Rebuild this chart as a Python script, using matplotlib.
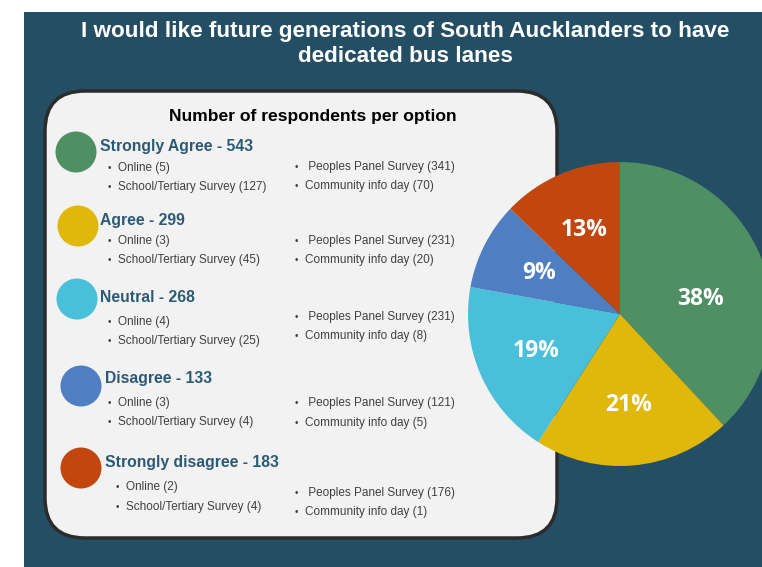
import matplotlib.pyplot as plt
from matplotlib.patches import FancyBboxPatch, Circle, Rectangle

# chart data
options = ['Strongly Agree', 'Agree', 'Neutral', 'Disagree', 'Strongly disagree']
totals = [543, 299, 268, 133, 183]
online = [5, 3, 4, 3, 2]
school = [127, 45, 25, 4, 4]
peoples_panel = [341, 231, 231, 121, 176]
community_day = [70, 20, 8, 5, 1]
colors = ['#4e8f64', '#e0b80b', '#49bfd9', '#4f7fc2', '#c2470f']

title = 'I would like future generations of South Aucklanders to have\ndedicated bus lanes'
panel_title = 'Number of respondents per option'

W, H = 762, 567
bg = '#234e64'
heading_color = '#2c5a75'
bullet_color = '#404040'

fig = plt.figure(figsize=(W / 100, H / 100), dpi=100)
fig.patch.set_facecolor('white')

# full-figure axes working in pixel units
ax = fig.add_axes([0, 0, 1, 1])
ax.set_xlim(0, W)
ax.set_ylim(H, 0)
ax.axis('off')

ax.add_patch(Rectangle((24, 12), W - 24, H - 12, facecolor=bg, edgecolor='none'))
ax.text(405, 44, title, ha='center', va='center', color='white',
        fontsize=16.2, fontweight='bold', family='Liberation Sans', linespacing=1.22)

# rounded panel
ax.add_patch(FancyBboxPatch((45, 91), 512, 447, boxstyle='round,pad=0,rounding_size=40',
                            facecolor='#f2f2f2', edgecolor='#2b2b2b', linewidth=2.5))
ax.text(313, 116, panel_title, ha='center', va='center', color='black',
        fontsize=12.6, fontweight='bold', family='Liberation Sans')

# layout of each legend block
circle_x = [76, 78, 77, 81, 81]
circle_y = [152, 226, 299, 386, 468]
head_x = [100, 100, 100, 105, 105]
head_y = [147, 220, 298, 378, 463]
left_x = [108, 108, 108, 108, 116]
left_y = [(168, 187), (241, 260), (322, 341), (403, 422), (487, 507)]
right_y = [(167, 186), (241, 260), (317, 336), (403, 423), (493, 512)]

for i, name in enumerate(options):
    ax.add_patch(Circle((circle_x[i], circle_y[i]), 20.5, facecolor=colors[i], edgecolor='none'))
    ax.text(head_x[i], head_y[i], f'{name} - {totals[i]}', ha='left', va='center',
            color=heading_color, fontsize=11.3, fontweight='bold', family='Liberation Sans')
    items_left = [f'Online ({online[i]})', f'School/Tertiary Survey ({school[i]})']
    items_right = [f' Peoples Panel Survey ({peoples_panel[i]})', f'Community info day ({community_day[i]})']
    for txt, y in zip(items_left, left_y[i]):
        ax.text(left_x[i], y, '\u2022', ha='left', va='center', color=bullet_color, fontsize=7,
                family='Liberation Sans')
        ax.text(left_x[i] + 10, y, txt, ha='left', va='center', color=bullet_color, fontsize=8.5,
                family='Liberation Sans')
    for txt, y in zip(items_right, right_y[i]):
        ax.text(295, y, '\u2022', ha='left', va='center', color=bullet_color, fontsize=7,
                family='Liberation Sans')
        ax.text(305, y, txt, ha='left', va='center', color=bullet_color, fontsize=8.5,
                family='Liberation Sans')

# pie, centre (620, 314), radius 152 px
cx, cy, r = 620, 314, 152
pax = fig.add_axes([(cx - r) / W, (H - cy - r) / H, 2 * r / W, 2 * r / H])
wedges, _, autotexts = pax.pie(totals, colors=colors, startangle=90, counterclock=False,
                               autopct=lambda p: f'{p:.0f}%', pctdistance=0.6,
                               textprops={'color': 'white', 'fontsize': 16.5, 'fontweight': 'bold',
                                          'family': 'Open Sans'},
                               wedgeprops={'linewidth': 0})
# the 38% label sits lower than the slice centre in the original
autotexts[0].set_position((0.53, 0.1))
pax.set_xlim(-1, 1)
pax.set_ylim(-1, 1)
pax.set_aspect('equal')
pax.axis('off')

fig.savefig('out.png', dpi=100, facecolor=fig.get_facecolor())
